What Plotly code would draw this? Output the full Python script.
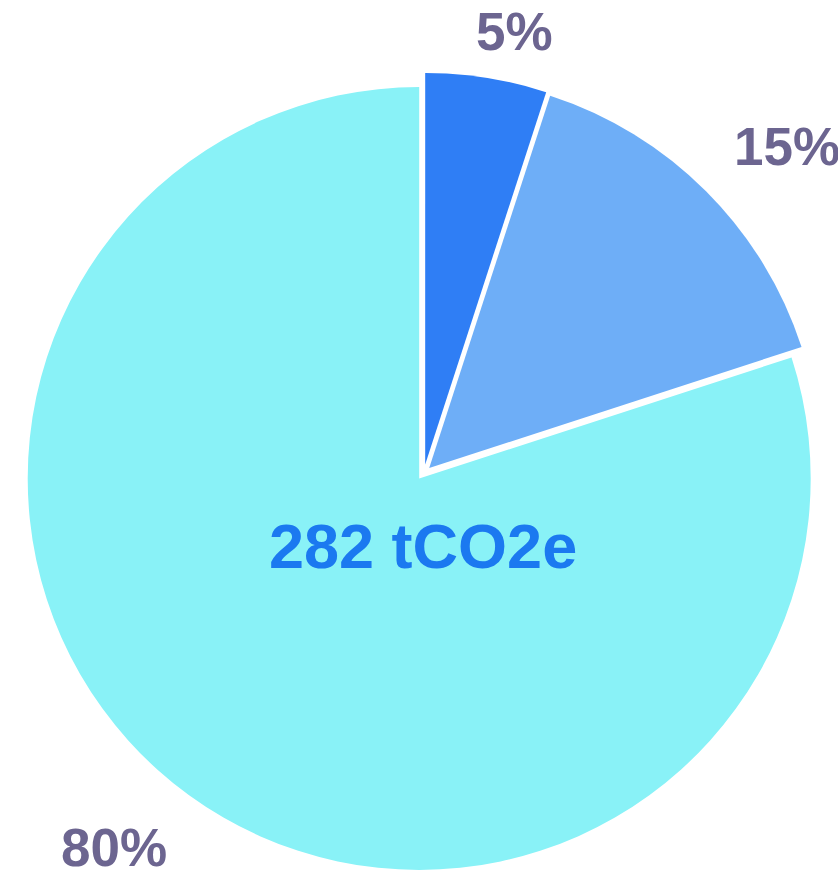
import math
import plotly.graph_objects as go

# ---- data ----
categories = ["Category 1", "Category 2", "Category 3"]
shares = [5, 15, 80]          # percent of total
total_label = "282 tCO2e"

# ---- style ----
W, H = 838, 870
slice_colors = ["#2f7ef5", "#6eaef7", "#89f2f7"]
label_color = "#6c6590"
center_color = "#1b79f0"
FONT = "Liberation Sans, Arial, sans-serif"

CX, CY = 419.2, 478.5        # pie centre (px)
R = 391.5                    # pie radius (px)
# explode offsets (px) of each slice
explode = [(6, -14), (10, -10.5), (0, 0)]
LABEL_R = 425
label_nudge = [(-12, 4), (12, 0), (0, -6)]   # fine placement of the outside labels (px)


def px_x(x):
    return x / W


def px_y(y):
    return 1 - y / H


fig = go.Figure()
for i, (dx, dy) in enumerate(explode):
    cols = [slice_colors[j] if j == i else "rgba(0,0,0,0)" for j in range(len(shares))]
    cx, cy = CX + dx, CY + dy
    fig.add_trace(go.Pie(
        labels=categories,
        values=shares,
        sort=False,
        direction="clockwise",
        rotation=0,
        textinfo="none",
        hoverinfo="skip",
        showlegend=False,
        marker=dict(colors=cols, line=dict(width=0)),
        domain=dict(
            x=[max(0, px_x(cx - R)), min(1, px_x(cx + R))],
            y=[max(0, px_y(cy + R)), min(1, px_y(cy - R))],
        ),
    ))

# outside percentage labels, placed along each slice's bisector
annotations = []
tot = sum(shares)
cum = 0
for v, (nx, ny) in zip(shares, label_nudge):
    theta = 2 * math.pi * (cum + v / 2) / tot
    cum += v
    sx, sy = math.sin(theta), -math.cos(theta)
    annotations.append(dict(
        x=px_x(CX + LABEL_R * sx + nx), y=px_y(CY + LABEL_R * sy + ny),
        xref="paper", yref="paper", showarrow=False,
        text=f"{v}%",
        xanchor="left" if sx > 0 else "right",
        yanchor="bottom" if sy < 0 else "top",
        font=dict(family=FONT, size=53, color=label_color, weight="bold"),
    ))

annotations.append(dict(
    x=px_x(423), y=px_y(546), xref="paper", yref="paper", showarrow=False,
    text=total_label, xanchor="center", yanchor="middle",
    font=dict(family=FONT, size=63, color=center_color, weight="bold"),
))

fig.update_layout(
    width=W, height=H,
    margin=dict(l=0, r=0, t=0, b=0),
    paper_bgcolor="white",
    plot_bgcolor="white",
    annotations=annotations,
)

fig.write_html(
    "out.html",
    config={"displayModeBar": False, "staticPlot": True},
    post_script="document.body.style.margin='0';document.body.style.overflow='hidden';",
)
